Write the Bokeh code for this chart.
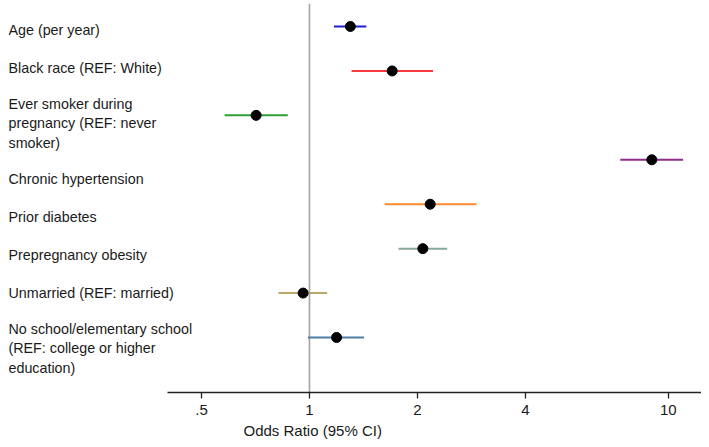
from bokeh.plotting import figure
from bokeh.models import Range1d, FixedTicker, Span, Title, ColumnDataSource
from bokeh.core.properties import value
from bokeh.embed import file_html
from bokeh.resources import INLINE

# ---- data ----
labels = [
    "Age (per year)",
    "Black race (REF: White)",
    "Ever smoker during\npregnancy (REF: never\nsmoker)",
    "Chronic hypertension",
    "Prior diabetes",
    "Prepregnancy obesity",
    "Unmarried (REF: married)",
    "No school/elementary school\n(REF: college or higher\neducation)",
]
odds_ratio = [1.30, 1.70, 0.71, 9.00, 2.17, 2.07, 0.96, 1.19]
ci_low = [1.17, 1.31, 0.58, 7.35, 1.62, 1.77, 0.82, 0.99]
ci_high = [1.44, 2.21, 0.87, 11.0, 2.92, 2.42, 1.12, 1.42]
colors = ["#1f1fcf", "#f83a3a", "#2f9e34", "#8d2a8d",
          "#fb8a2c", "#87a898", "#b9a86e", "#4d7ca6"]
tick_values = [0.5, 1, 2, 4, 10]
tick_labels = [".5", "1", "2", "4", "10"]
axis_title = "Odds Ratio (95% CI)"

rows = list(range(1, len(labels) + 1))

# ---- layout constants ----
W, H = 701, 442
x_start, x_end = 0.1449, 12.38
axis_lo = 0.402
row_px = 44.43
first_row_px = 23.0  # distance from frame top to first row
y_top = 1 - first_row_px / row_px
y_bottom = 1 + (389 - first_row_px) / row_px

# label column layout (text stacked with gaps)
line_px, gap_px, top_px = 17.3, 20.8, 7.25
label_y = []
cur = top_px
for lab in labels:
    n = lab.count("\n") + 1
    slot = n * line_px + gap_px
    center = cur + slot / 2
    label_y.append(1 + (center - first_row_px) / row_px)
    cur += slot

p = figure(width=W, height=H, output_backend="svg", toolbar_location=None,
           x_axis_type="log", y_axis_location=None,
           x_range=Range1d(x_start, x_end), y_range=Range1d(y_bottom, y_top),
           min_border_left=8, min_border_right=0, min_border_top=3,
           min_border_bottom=50)
p.outline_line_color = None
p.xgrid.visible = False
p.ygrid.visible = False
p.background_fill_color = "white"

ref = Span(location=1, dimension="height", line_color="#a3a3a3",
           line_width=1.6, level="underlay")
p.add_layout(ref)

src = ColumnDataSource(dict(y=rows, orr=odds_ratio, lo=ci_low, hi=ci_high,
                            color=colors))
p.segment(x0="lo", y0="y", x1="hi", y1="y", line_color="color",
          line_width=2, source=src)
p.scatter(x="orr", y="y", size=10, fill_color="black", line_color="black",
          source=src)

p.text(x=[x_start] * len(labels), y=label_y, text=labels,
       text_align="left", text_baseline="middle",
       text_font=value("Liberation Sans"), text_font_size="14.3px",
       text_line_height=17.3 / 14.3, text_color="#1a1a1a")

ax = p.xaxis[0]
ax.ticker = FixedTicker(ticks=tick_values)
ax.major_label_overrides = {v: t for v, t in zip(tick_values, tick_labels)}
ax.bounds = (axis_lo, x_end)
ax.axis_line_color = "#222222"
ax.axis_line_width = 1.5
ax.major_tick_line_color = "#222222"
ax.major_tick_line_width = 1.3
ax.major_tick_in = 0
ax.major_tick_out = 6
ax.minor_tick_line_color = None
ax.major_label_standoff = 6
ax.major_label_text_font = "Liberation Sans"
ax.major_label_text_font_size = "15px"
ax.major_label_text_color = "#1a1a1a"

t = Title(text=axis_title, align="left", offset=235, standoff=5,
          text_font="Liberation Sans", text_font_size="15px",
          text_font_style="normal", text_color="#1a1a1a")
p.add_layout(t, "below")

open("out.html", "w").write(file_html(p, INLINE))
